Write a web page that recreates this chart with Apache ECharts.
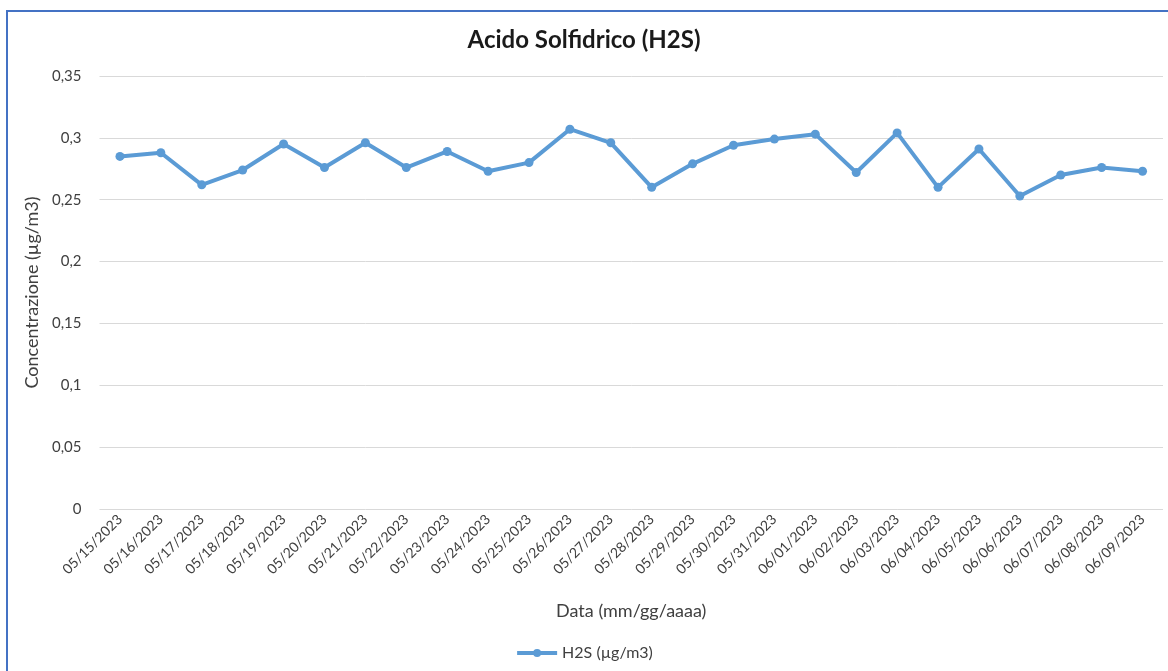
<!DOCTYPE html>
<html>
<head>
<meta charset="utf-8">
<script src="https://cdn.jsdelivr.net/npm/echarts@6/dist/echarts.min.js"></script>
<style>
html,body{margin:0;padding:0;background:#fff;}
#chart{width:1168px;height:671px;}
</style>
</head>
<body>
<div id="chart"></div>
<script>
const categories = ["05/15/2023","05/16/2023","05/17/2023","05/18/2023","05/19/2023","05/20/2023","05/21/2023","05/22/2023","05/23/2023","05/24/2023","05/25/2023","05/26/2023","05/27/2023","05/28/2023","05/29/2023","05/30/2023","05/31/2023","06/01/2023","06/02/2023","06/03/2023","06/04/2023","06/05/2023","06/06/2023","06/07/2023","06/08/2023","06/09/2023"];
const h2sValues = [0.285,0.288,0.262,0.274,0.295,0.276,0.296,0.276,0.289,0.273,0.280,0.307,0.296,0.260,0.279,0.294,0.299,0.303,0.272,0.304,0.260,0.291,0.253,0.270,0.276,0.273];
const seriesName = "H2S (µg/m3)";
const titleText = "Acido Solfidrico (H2S)";
const yAxisName = "Concentrazione (µg/m3)";
const xAxisName = "Data (mm/gg/aaaa)";

const font = "Lato, 'Open Sans', sans-serif";
const chart = echarts.init(document.getElementById('chart'));
chart.setOption({
  animation: false,
  backgroundColor: '#fff',
  graphic: [{
    type: 'rect', silent: true, z: -1,
    shape: { x: 7, y: 11, width: 1200, height: 720 },
    style: { fill: 'none', stroke: '#4472C4', lineWidth: 2 }
  }],
  title: {
    text: titleText, left: 'center', top: 23,
    textStyle: { fontFamily: font, fontSize: 24, fontWeight: 'bold', color: '#1a1a1a' }
  },
  legend: {
    bottom: 5, left: 'center',
    itemWidth: 40, itemHeight: 10, itemGap: 6,
    lineStyle: { width: 4 },
    textStyle: { fontFamily: font, fontSize: 16, color: '#404040' },
    data: [seriesName]
  },
  grid: { left: 99.5, right: 5, top: 76, bottom: 162 },
  xAxis: {
    type: 'category', data: categories, boundaryGap: true,
    axisLine: { show: false }, axisTick: { show: false },
    axisLabel: { rotate: 45, margin: 8, fontFamily: font, fontSize: 14, color: '#404040', interval: 0 },
    name: xAxisName, nameLocation: 'middle', nameGap: 93,
    nameTextStyle: { fontFamily: font, fontSize: 18, color: '#404040' }
  },
  yAxis: {
    type: 'value', min: 0, max: 0.35, interval: 0.05,
    axisLine: { show: false }, axisTick: { show: false },
    splitLine: { lineStyle: { color: '#d9d9d9', width: 1 } },
    axisLabel: {
      margin: 18, fontFamily: font, fontSize: 15, color: '#404040',
      formatter: v => String(+v.toFixed(2)).replace('.', ',')
    },
    name: yAxisName, nameLocation: 'middle', nameGap: 52, nameRotate: 90,
    nameTextStyle: { fontFamily: font, fontSize: 18, color: '#404040' }
  },
  series: [{
    name: seriesName, type: 'line', data: h2sValues,
    symbol: 'circle', symbolSize: 9,
    lineStyle: { color: '#5B9BD5', width: 4 },
    itemStyle: { color: '#5B9BD5' }
  }]
});
</script>
</body>
</html>
